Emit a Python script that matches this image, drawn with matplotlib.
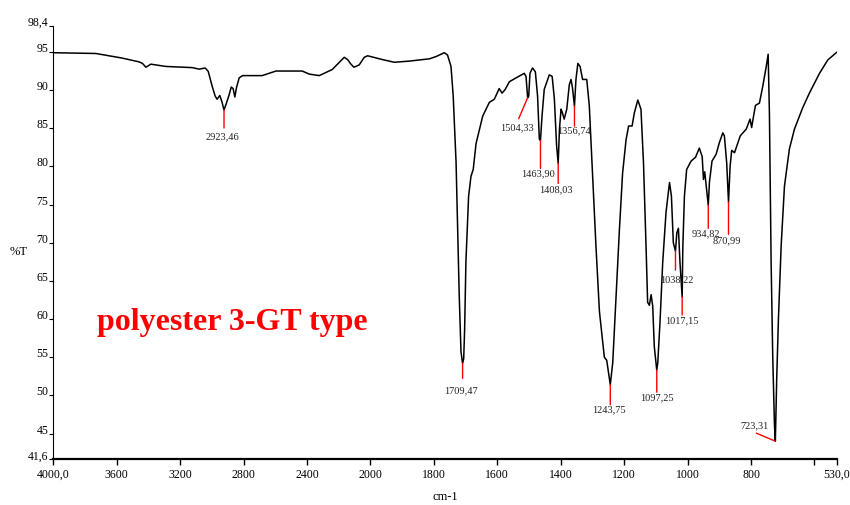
import numpy as np
import matplotlib
matplotlib.use("Agg")
import matplotlib.pyplot as plt

plt.rcParams['font.family'] = ['Liberation Serif', 'DejaVu Serif']

# spectrum (wavenumber cm-1, %T)
wavenumber = [
    4000, 3732, 3648, 3566, 3459, 3438, 3416, 3385, 3290, 3124,
    3080, 3042, 3023, 2998, 2979, 2967, 2950, 2937, 2923.46, 2908,
    2891, 2878, 2866, 2855, 2845, 2828, 2807, 2683, 2640, 2596,
    2430, 2386, 2323, 2241, 2165, 2144, 2123, 2104, 2071, 2039,
    2018, 1962, 1925, 1878, 1814, 1793, 1767, 1757, 1746, 1739,
    1730, 1725, 1720, 1714.5, 1709.47, 1706, 1703, 1699, 1690.5, 1683,
    1676, 1667, 1646, 1625, 1609.5, 1594, 1585, 1575, 1562, 1541,
    1515, 1509.5, 1504.33, 1501, 1497, 1489, 1480, 1473, 1467.5, 1463.9,
    1459, 1452, 1436, 1427, 1420, 1413, 1408.03, 1404, 1399, 1396,
    1389, 1381, 1373, 1367.5, 1363, 1356.74, 1352, 1346, 1339, 1331,
    1318, 1310, 1299, 1289, 1278, 1262.5, 1255, 1243.75, 1236, 1225.5,
    1215, 1205, 1194, 1186, 1175, 1168, 1157, 1147, 1139, 1131,
    1126, 1120.5, 1115, 1110, 1105, 1097.25, 1094, 1087, 1078.5, 1068,
    1057, 1051, 1045, 1038.22, 1034, 1029, 1024, 1017.15, 1015, 1010,
    1003, 989, 975, 963, 954, 950, 946, 934.82, 931, 923,
    910, 900, 889, 884, 876.6, 870.99, 866, 861, 852, 834,
    815, 803, 798, 792, 786, 773.5, 763, 752, 746, 742,
    736.6, 731.6, 726, 723.31, 719, 713.6, 705, 694.6, 679, 663,
    637, 616, 584, 558, 531, 530,
]
transmittance = [
    94.9, 94.8, 94.5, 94.2, 93.7, 93.5, 93.0, 93.4, 93.1, 92.95,
    92.75, 92.9, 92.45, 90.5, 89.2, 88.8, 89.3, 88.5, 87.4, 88.3,
    89.4, 90.4, 90.2, 89.1, 90.3, 91.6, 91.9, 91.9, 92.2, 92.5,
    92.5, 92.1, 91.9, 92.7, 94.3, 94.0, 93.4, 93.0, 93.3, 94.3,
    94.5, 94.0, 93.65, 93.8, 94.1, 94.4, 94.9, 94.6, 93.1, 89.2,
    80.5, 71.8, 63.0, 55.7, 54.2, 54.8, 58.7, 67.5, 76.1, 78.7,
    79.6, 83.0, 86.6, 88.4, 88.8, 90.2, 89.6, 90.1, 91.1, 91.6,
    92.2, 91.8, 89.0, 89.2, 92.2, 92.9, 92.4, 89.2, 83.6, 83.4,
    86.6, 90.1, 92.0, 91.8, 88.8, 82.7, 80.4, 84.9, 87.5, 87.2,
    86.2, 87.5, 90.7, 91.4, 90.3, 87.9, 91.4, 93.5, 93.1, 91.4,
    91.4, 88.0, 78.3, 69.6, 61.0, 55.0, 54.6, 51.4, 54.3, 62.9,
    71.7, 79.1, 83.5, 85.3, 85.3, 87.0, 88.7, 87.5, 80.4, 69.5,
    62.2, 61.8, 63.2, 61.7, 56.4, 53.3, 54.3, 59.6, 67.4, 74.0,
    77.9, 76.1, 70.0, 68.9, 71.3, 71.9, 67.4, 62.9, 69.5, 76.1,
    79.6, 80.7, 81.2, 82.4, 81.3, 78.3, 79.3, 74.9, 78.0, 80.7,
    81.6, 83.1, 84.4, 84.0, 80.4, 75.3, 80.0, 82.1, 81.8, 84.0,
    84.9, 86.2, 85.1, 86.6, 88.0, 88.3, 90.5, 93.1, 94.7, 86.9,
    67.4, 55.2, 46.0, 44.0, 52.2, 60.0, 69.6, 77.4, 82.3, 84.9,
    87.7, 89.6, 92.2, 93.95, 94.9, 94.95,
]

# labelled peaks
peak_wn = [2923.46, 1709.47, 1504.33, 1463.90, 1408.03, 1356.74, 1243.75,
           1097.25, 1038.22, 1017.15, 934.82, 870.99, 723.31]
peak_labels = ['2923,46', '1709,47', '1504,33', '1463,90', '1408,03', '1356,74',
               '1243,75', '1097,25', '1038,22', '1017,15', '934,82', '870,99',
               '723,31']

x_ticks = [4000, 3600, 3200, 2800, 2400, 2000, 1800, 1600, 1400, 1200, 1000, 800, 600, 530]
x_ticklabels = ['4000,0', '3600', '3200', '2800', '2400', '2000', '1800', '1600',
                '1400', '1200', '1000', '800', '', '530,0']
y_ticks = [41.6, 45, 50, 55, 60, 65, 70, 75, 80, 85, 90, 95, 98.4]
y_ticklabels = ['41,6', '45', '50', '55', '60', '65', '70', '75', '80', '85', '90', '95', '98,4']

# (line end dx, dy) and (label dx, dy) in pixels, from the peak point
label_layout = [
    ((0, -18), (-2, -27)),
    ((0, -15), (-2, -27)),
    ((-9, -21), (-11, -30)),
    ((0, -28), (-2, -33)),
    ((0, -20), (-2, -26)),
    ((0, -20), (0, -25)),
    ((0, -20), (-1, -25)),
    ((0, -22), (0, -28)),
    ((0, -19), (1, -29)),
    ((0, -18), (0, -24)),
    ((0, -23), (-2, -28)),
    ((0, -32), (-2, -38)),
    ((-19, 8), (-21, 15)),
]


def fwd(w):
    w = np.asarray(w, dtype=float)
    return np.where(w > 2000, 2000 + (w - 2000) / 2, w)


def inv(u):
    u = np.asarray(u, dtype=float)
    return np.where(u > 2000, 2000 + (u - 2000) * 2, u)


fig = plt.figure(figsize=(8.5, 5.05), dpi=100)
ax = fig.add_axes([0.0627, 0.0901, 0.9216, 0.8584])
ax.set_xscale('function', functions=(fwd, inv))

ax.plot(wavenumber, transmittance, color='black', lw=1.1)
ax.set_xlim(4000, 530)
ax.set_ylim(41.6, 98.4)

ax.set_xticks(x_ticks)
ax.set_xticklabels(x_ticklabels)
ax.set_yticks(y_ticks)
ax.set_yticklabels(y_ticklabels)
ax.minorticks_off()
for lab in ax.get_yticklabels():
    lab.set_verticalalignment('baseline')

ax.spines['top'].set_visible(False)
ax.spines['right'].set_visible(False)
ax.spines['bottom'].set_linewidth(1.6)
ax.spines['left'].set_linewidth(0.8)
ax.tick_params(axis='y', direction='out', length=3, width=0.8, pad=0.5, labelsize=8.5)
ax.tick_params(axis='x', direction='out', length=4.5, width=1.0, pad=2.5, labelsize=8.5)

px = 0.72  # pixels -> points at 100 dpi
for wn, lab, (line_off, text_off) in zip(peak_wn, peak_labels, label_layout):
    t = float(np.interp(wn, wavenumber[::-1], transmittance[::-1]))
    ax.annotate('', xy=(wn, t), xytext=(line_off[0] * px, line_off[1] * px),
                textcoords='offset points',
                arrowprops=dict(arrowstyle='-', color='red', lw=1.0,
                                shrinkA=0, shrinkB=0))
    ax.annotate(lab, xy=(wn, t), xytext=(text_off[0] * px, text_off[1] * px),
                textcoords='offset points', ha='center', va='center',
                fontsize=7.5, color='#222222')

ax.text(0.0554, 0.2987, 'polyester 3-GT type', transform=ax.transAxes,
        ha='left', va='baseline', fontsize=23, fontweight='bold', color='red')

fig.text(445 / 850, 1 - 497 / 505, 'cm-1', ha='center', va='center', fontsize=9)
fig.text(19 / 850, 1 - 252 / 505, '%T', ha='center', va='center', fontsize=9)

fig.savefig('out.png', dpi=100)
